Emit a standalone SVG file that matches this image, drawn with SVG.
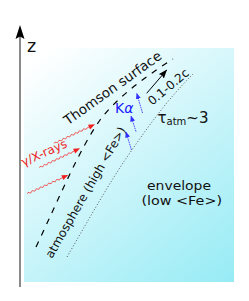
<svg xmlns="http://www.w3.org/2000/svg" width="249" height="301" viewBox="0 0 249 301">
<style>
text{font-family:"DejaVu Sans","Liberation Sans",sans-serif;fill:#111}
.red{fill:#ee1c1c}
.blue{fill:#1a1aff}
.wave{fill:none;stroke:#f04545;stroke-width:0.8}
.bl{stroke:#4a4aff;stroke-width:1;stroke-dasharray:1.6 0.8;fill:none}
</style>
<defs>
<linearGradient id="bg" gradientUnits="userSpaceOnUse" x1="40" y1="55" x2="225" y2="290">
<stop offset="0" stop-color="#ffffff"/>
<stop offset="1" stop-color="#96ebf5"/>
</linearGradient>
<marker id="bh" markerUnits="userSpaceOnUse" markerWidth="6" markerHeight="5" refX="5.5" refY="2.5" orient="auto">
<path d="M0,0 L6,2.5 L0,5 Z" fill="#3030ff"/>
</marker>
<marker id="kh" markerUnits="userSpaceOnUse" markerWidth="9" markerHeight="7" refX="8.5" refY="3.5" orient="auto">
<path d="M0,0 L9,3.5 L0,7 L1.5,3.5 Z" fill="#000"/>
</marker>
<g id="wv">
<path class="wave" d="M0,0 q1.125,-1.6 2.25,0 t2.25,0 t2.25,0 t2.25,0 t2.25,0 t2.25,0 t2.25,0 t2.25,0 t2.25,0 t2.25,0 t2.25,0 t2.25,0 t2.25,0 t2.25,0 t2.25,0 t2.25,0 l3,0"/>
<path d="M38.5,-2.6 L45,0 L38.5,2.6 Z" fill="#f02020"/>
</g>
</defs>
<g id="background">
<rect x="24" y="48" width="210" height="234" fill="url(#bg)"/>
</g>
<g id="axis">
<line x1="20" y1="287" x2="20" y2="36" stroke="#8a8a8a" stroke-width="2"/>
<path d="M20,25 L24.5,39 L20,36.5 L15.5,39 Z" fill="#000"/>
<text x="27" y="52" font-size="17.5">z</text>
</g>
<g id="connectors">
<path id="thomson-curve" d="M36,247 C60,196 80,148 100,120 C115,100 140,80 173,59" fill="none" stroke="#000" stroke-width="1.2" stroke-dasharray="6 6.5"/>
<path id="atm-boundary" d="M67,257 C90,217 110,182 125,160 C145,131 165,102 193,74" fill="none" stroke="#555" stroke-width="1" stroke-dasharray="1 2"/>
<line x1="146.7" y1="93.3" x2="166.7" y2="70" stroke="#000" stroke-width="1" marker-end="url(#kh)"/>
<line class="bl" x1="142.5" y1="113" x2="136.8" y2="93.5" marker-end="url(#bh)"/>
<line class="bl" x1="136" y1="131.5" x2="131" y2="116" marker-end="url(#bh)"/>
<line class="bl" x1="131.5" y1="150" x2="126" y2="132" marker-end="url(#bh)"/>
<use href="#wv" transform="translate(54.2,143.4) rotate(-25.1)"/>
<use href="#wv" transform="translate(39.4,167.6) rotate(-25.4)"/>
<use href="#wv" transform="translate(27.3,193.7) rotate(-24.5)"/>
</g>
<g id="labels">
<text font-size="13.5" transform="translate(68,125.5) rotate(-35.5)">Thomson surface</text>
<text font-size="12" transform="translate(152.2,105.8) rotate(-40)">0.1-0.2c</text>
<text class="blue" x="115" y="113.3" font-size="14">K<tspan font-style="italic">α</tspan></text>
<text x="157.5" y="123" font-size="15">τ<tspan font-size="10" dy="2">atm</tspan><tspan font-size="15" dy="-2">~3</tspan></text>
<text class="red" font-size="12" transform="translate(23.5,166.5) rotate(-24)">γ/X-rays</text>
<text font-size="12" transform="translate(52,259) rotate(-60)">atmosphere (high &lt;Fe&gt;)</text>
<text x="147" y="189.6" font-size="13" textLength="64" lengthAdjust="spacingAndGlyphs">envelope</text>
<text x="141.5" y="205" font-size="13" textLength="80.5" lengthAdjust="spacingAndGlyphs">(low &lt;Fe&gt;)</text>
</g>
</svg>
